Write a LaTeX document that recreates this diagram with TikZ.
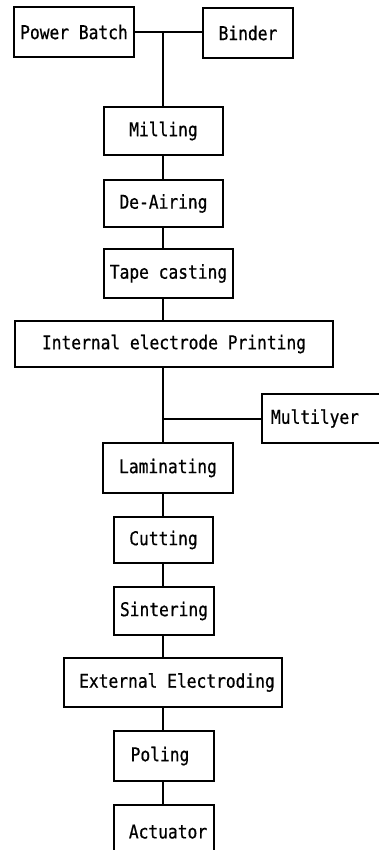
\documentclass[tikz,border=0pt]{standalone}
\usepackage{fontspec}
\setmonofont[FakeStretch=0.855,FakeBold=0.6]{DejaVu Sans Mono}
\begin{document}
\begin{tikzpicture}[x=1pt,y=-1pt,
  box/.style={draw=black, line width=1.1pt, rectangle, inner sep=0pt,
    font=\ttfamily\fontsize{19}{22}\selectfont, text=black},
  link/.style={draw=black, line width=1.1pt}]
\useasboundingbox (0,0) rectangle (378,850);
\fill[white] (0,0) rectangle (378,850);
\node[box, minimum width=120pt, minimum height=50pt] (pb) at (74,32) {Power Batch};
\node[box, minimum width=90pt, minimum height=50pt] (binder) at (248,33) {Binder};
\node[box, minimum width=119pt, minimum height=48pt] (mill) at (163.5,131) {Milling};
\node[box, minimum width=119pt, minimum height=47pt] (deair) at (163.5,203.5) {De-Airing};
\node[box, minimum width=129pt, minimum height=49pt] (tape) at (168.5,273.5) {Tape casting};
\node[box, minimum width=318pt, minimum height=46pt] (iep) at (174,344) {Internal electrode Printing};
\node[box, minimum width=124pt, minimum height=49pt, text width=116pt, align=left] (multi) at (324,418.5) {\hspace*{5pt}Multilyer};
\node[box, minimum width=130pt, minimum height=50pt] (lam) at (168,468) {Laminating};
\node[box, minimum width=99pt, minimum height=46pt] (cut) at (163.5,540) {Cutting};
\node[box, minimum width=100pt, minimum height=48pt] (sint) at (164,611) {Sintering};
\node[box, minimum width=218pt, minimum height=49pt] (ext) at (173,682.5) {\hspace*{8pt}External Electroding};
\node[box, minimum width=100pt, minimum height=50pt] (pol) at (164,756) {Poling\hspace*{8pt}};
\node[box, minimum width=100pt, minimum height=55pt, text depth=0pt] (act) at (164,832.5) {\raisebox{2pt}{\hspace*{8pt}Actuator}};
\coordinate (trunk) at (163,0);
\coordinate (j1) at (163,32);
\coordinate (j2) at (163,419);
\draw[link] (pb.east |- j1) -- (binder.west |- j1);
\draw[link] (j1) -- (j1 |- mill.north);
\draw[link] (trunk |- mill.south) -- (trunk |- deair.north);
\draw[link] (trunk |- deair.south) -- (trunk |- tape.north);
\draw[link] (trunk |- tape.south) -- (trunk |- iep.north);
\draw[link] (trunk |- iep.south) -- (trunk |- lam.north);
\draw[link] (j2) -- (multi.west |- j2);
\draw[link] (trunk |- lam.south) -- (trunk |- cut.north);
\draw[link] (trunk |- cut.south) -- (trunk |- sint.north);
\draw[link] (trunk |- sint.south) -- (trunk |- ext.north);
\draw[link] (trunk |- ext.south) -- (trunk |- pol.north);
\draw[link] (trunk |- pol.south) -- (trunk |- act.north);
\end{tikzpicture}
\end{document}
